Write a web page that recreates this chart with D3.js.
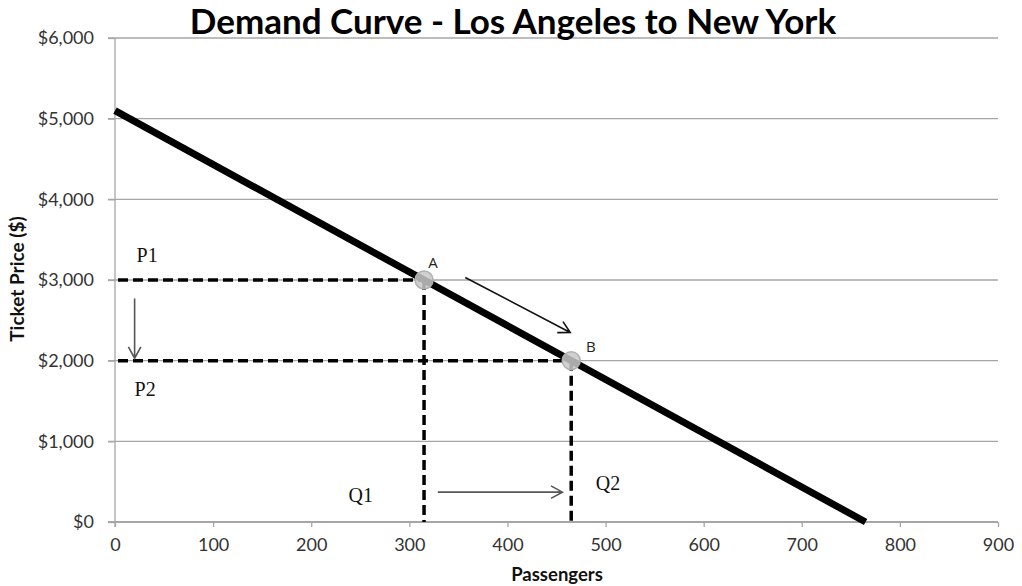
<!DOCTYPE html>
<html><head><meta charset="utf-8">
<script src="https://cdn.jsdelivr.net/npm/d3@7"></script>
<style>body{margin:0;background:#fff}svg{display:block}</style>
</head><body>
<svg id="c" width="1022" height="586"></svg>
<script>
const title = "Demand Curve - Los Angeles to New York";
const xTicks = [0,100,200,300,400,500,600,700,800,900];
const yTicks = [0,1000,2000,3000,4000,5000,6000];
const demandX = [0, 765];
const demandY = [5100, 0];
const pointNames = ["A","B"];
const pointQ = [315, 465];
const pointP = [3000, 2000];
const pointLabelX = [324, 485];
const pointLabelY = [3150, 2105];
const priceLabels = ["P1","P2"];
const priceLabelX = [22, 20];
const priceLabelY = [3220, 1560];
const qtyLabels = ["Q1","Q2"];
const qtyLabelX = [238, 490];
const qtyLabelY = [250, 400];
// arrows: [x1,y1,x2,y2] in data units
const arrowX1 = [20, 357, 329];
const arrowY1 = [2770, 3030, 370];
const arrowX2 = [20, 464, 456];
const arrowY2 = [2030, 2350, 370];
const arrowColor = ["#555","#111","#555"];

const svg = d3.select("#c");
const x = d3.scaleLinear().domain([0,900]).range([115,998]);
const y = d3.scaleLinear().domain([0,6000]).range([522,38]);
const sans = "Lato, 'Open Sans', sans-serif";

// grid
svg.append("g").selectAll("line").data(yTicks.filter(d=>d>0)).join("line")
  .attr("x1",108).attr("x2",998).attr("y1",d=>y(d)).attr("y2",d=>y(d))
  .attr("stroke","#a6a6a6").attr("stroke-width",1.3);

// y axis
const ya = svg.append("g").attr("transform","translate(115,0)")
  .call(d3.axisLeft(y).tickValues(yTicks).tickSize(7).tickFormat(d=>"$"+d3.format(",")(d)));
ya.select(".domain").attr("stroke","#a6a6a6").attr("stroke-width",1.3).attr("d","M0,527V38");
ya.selectAll(".tick line").attr("stroke","#a6a6a6").attr("stroke-width",1.3);
ya.selectAll(".tick text").attr("font-family",sans).attr("font-size",18)
  .attr("fill","#333").attr("x",-21);

// x axis
const xa = svg.append("g").attr("transform","translate(0,522)")
  .call(d3.axisBottom(x).tickValues(xTicks).tickSize(5).tickFormat(d3.format("d")));
xa.select(".domain").attr("stroke","#a6a6a6").attr("stroke-width",2).attr("d","M108,0H998");
xa.selectAll(".tick line").attr("stroke","#a6a6a6").attr("stroke-width",1.3);
xa.selectAll(".tick text").attr("font-family",sans).attr("font-size",18)
  .attr("fill","#333").attr("y",16);

// titles
svg.append("text").attr("x",513).attr("y",34).attr("text-anchor","middle")
  .attr("font-family",sans).attr("font-weight","bold").attr("font-size",35)
  .attr("fill","#000").text(title);
svg.append("text").attr("x",557).attr("y",581).attr("text-anchor","middle")
  .attr("font-family",sans).attr("font-weight","bold").attr("font-size",18.5)
  .attr("fill","#111").text("Passengers");
svg.append("text").attr("transform","translate(24,279) rotate(-90)").attr("text-anchor","middle")
  .attr("font-family",sans).attr("font-weight","bold").attr("font-size",19)
  .attr("fill","#111").text("Ticket Price ($)");

// dashed guides
const dash = svg.append("g").attr("stroke","#000").attr("stroke-width",3.5).attr("stroke-dasharray","10,5");
pointQ.forEach((q,i)=>{
  dash.append("line").attr("x1",x(0)+3).attr("x2",x(q)).attr("y1",y(pointP[i])).attr("y2",y(pointP[i]));
  dash.append("line").attr("x1",x(q)).attr("x2",x(q)).attr("y1",y(pointP[i])).attr("y2",y(0));
});

// demand line
const line = d3.line().x(d=>x(d[0])).y(d=>y(d[1]));
svg.append("path").datum(demandX.map((d,i)=>[d,demandY[i]])).attr("d",line)
  .attr("stroke","#000").attr("stroke-width",7).attr("fill","none");

// points
svg.append("g").selectAll("circle").data(pointQ).join("circle")
  .attr("cx",d=>x(d)).attr("cy",(d,i)=>y(pointP[i])).attr("r",9)
  .attr("fill","#c8c8c8").attr("fill-opacity",0.85).attr("stroke","#b0b0b0").attr("stroke-width",1.5);

svg.append("g").selectAll("text").data(pointNames).join("text")
  .attr("x",(d,i)=>x(pointLabelX[i])).attr("y",(d,i)=>y(pointLabelY[i])).attr("text-anchor","middle")
  .attr("font-family","'Open Sans', sans-serif").attr("font-size",15).attr("fill","#222").text(d=>d);

svg.append("g").selectAll("text").data(priceLabels).join("text")
  .attr("x",(d,i)=>x(priceLabelX[i])).attr("y",(d,i)=>y(priceLabelY[i]))
  .attr("font-family","'Liberation Serif', serif").attr("font-size",20).attr("fill","#111").text(d=>d);
svg.append("g").selectAll("text").data(qtyLabels).join("text")
  .attr("x",(d,i)=>x(qtyLabelX[i])).attr("y",(d,i)=>y(qtyLabelY[i]))
  .attr("font-family","'Liberation Serif', serif").attr("font-size",20).attr("fill","#111").text(d=>d);

// arrows
const ag = svg.append("g").attr("fill","none");
arrowX1.forEach((a,i)=>{
  const x1=x(a), y1=y(arrowY1[i]), x2=x(arrowX2[i]), y2=y(arrowY2[i]);
  const ang=Math.atan2(y2-y1,x2-x1), L=13, w=0.5;
  ag.append("path").attr("d",`M${x1},${y1}L${x2},${y2}M${x2-L*Math.cos(ang-w)},${y2-L*Math.sin(ang-w)}L${x2},${y2}L${x2-L*Math.cos(ang+w)},${y2-L*Math.sin(ang+w)}`)
    .attr("stroke",arrowColor[i]).attr("stroke-width",1.6);
});
</script>
</body></html>
